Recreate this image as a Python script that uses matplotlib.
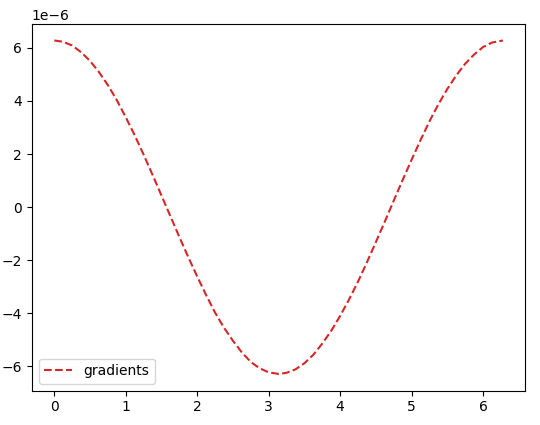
import numpy as np
import matplotlib
matplotlib.use('Agg')
import matplotlib.pyplot as plt

# valores (y em unidades de 1e-6)
xs = [0.0, 0.125, 0.25, 0.375, 0.5, 0.625, 0.75, 0.875, 1.0, 1.125, 1.25, 1.375, 1.5,
      1.625, 1.75, 1.875, 2.0, 2.125, 2.25, 2.375, 2.5, 2.625, 2.75, 2.875, 3.0, 3.14,
      3.25, 3.375, 3.5, 3.625, 3.75, 3.875, 4.0, 4.125, 4.25, 4.375, 4.5, 4.625, 4.75,
      4.875, 5.0, 5.125, 5.25, 5.375, 5.5, 5.625, 5.75, 5.875, 6.0, 6.125, 6.28]
grad = [6.28, 6.23, 6.09, 5.84, 5.51, 5.09, 4.60, 4.03, 3.39, 2.71, 1.98, 1.22, 0.44,
        -0.34, -1.12, -1.88, -2.61, -3.31, -3.97, -4.54, -5.03, -5.47, -5.83, -6.07, -6.22, -6.28,
        -6.24, -6.11, -5.88, -5.56, -5.14, -4.66, -4.10, -3.48, -2.81, -2.08, -1.32, -0.55, 0.24,
        1.02, 1.78, 2.52, 3.23, 3.87, 4.45, 4.96, 5.40, 5.75, 6.03, 6.20, 6.28]

fig = plt.figure(figsize=(5.4, 4.25), dpi=100)
plt.subplots_adjust(left=0.059, right=0.973, top=0.944, bottom=0.081)
plt.plot(xs, np.array(grad) * 1e-6, '--', color='#d62728', label='gradients')
plt.legend(loc='lower left')
plt.savefig('out.png')
